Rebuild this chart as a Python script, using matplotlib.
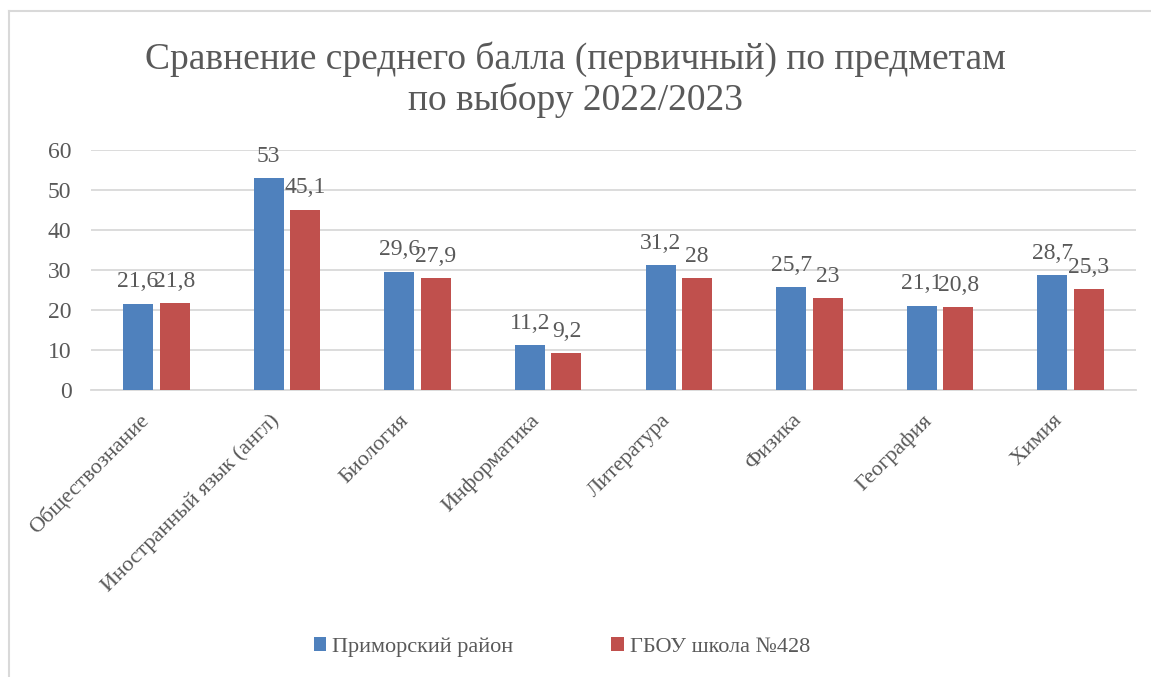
import matplotlib

matplotlib.use("Agg")
import matplotlib.pyplot as plt
import numpy as np
from matplotlib.lines import Line2D
from matplotlib.transforms import offset_copy

subjects = ["Обществознание", "Иностранный язык (англ)", "Биология", "Информатика",
            "Литература", "Физика", "География", "Химия"]
district = [21.6, 53, 29.6, 11.2, 31.2, 25.7, 21.1, 28.7]
school = [21.8, 45.1, 27.9, 9.2, 28, 23, 20.8, 25.3]
series_names = ["Приморский район", "ГБОУ школа №428"]
title = "Сравнение среднего балла (первичный) по предметам\nпо выбору 2022/2023"

plt.rcParams["font.family"] = ["Liberation Serif", "DejaVu Serif"]
TXT = "#595959"
BLUE, RED = "#4F81BD", "#C0504D"
W, H = 1151, 677


def fmt(v):
    return f"{v:g}".replace(".", ",")


fig = plt.figure(figsize=(W / 100, H / 100), dpi=100)
# outer chart border (only top and left edges fall inside the picture)
fig.lines.append(Line2D([9 / W, 1.0], [1 - 11 / H] * 2, transform=fig.transFigure,
                        color="#D9D9D9", lw=1.5))
fig.lines.append(Line2D([9 / W] * 2, [0, 1 - 11 / H], transform=fig.transFigure,
                        color="#D9D9D9", lw=1.5))
ax = fig.add_axes([91 / W, 1 - 390 / H, 1045 / W, 240 / H])

x = np.arange(len(subjects))
w = 0.23
off = 0.14
b1 = ax.bar(x - off, district, w, color=BLUE, label=series_names[0], zorder=3)
b2 = ax.bar(x + off, school, w, color=RED, label=series_names[1], zorder=3)
for bars, vals in ((b1, district), (b2, school)):
    for r, v in zip(bars, vals):
        ax.annotate(fmt(v), (r.get_x() + r.get_width() / 2, v), xytext=(0, 8),
                    textcoords="offset points", ha="center", va="bottom",
                    fontsize=17, color=TXT)

ax.set_xlim(-0.5, len(subjects) - 0.5)
ax.set_ylim(0, 60)
ax.set_yticks(range(0, 61, 10))
ax.yaxis.grid(True, color="#D9D9D9", lw=1.3, zorder=0)
for s in ("top", "right", "left"):
    ax.spines[s].set_visible(False)
ax.spines["bottom"].set_color("#D9D9D9")
ax.spines["bottom"].set_linewidth(1.3)
ax.tick_params(axis="both", length=0, labelcolor=TXT)
ax.tick_params(axis="y", pad=14, labelsize=17)
ax.set_xticks(x)
ax.set_xticklabels(subjects, rotation=45, ha="right", rotation_mode="anchor", fontsize=16)
ax.tick_params(axis="x", pad=15)
for lbl in ax.get_xticklabels():
    lbl.set_transform(offset_copy(lbl.get_transform(), fig=fig, x=-18, y=0, units="dots"))

fig.text(0.5, 1 - 80 / H, title, ha="center", va="center", fontsize=27,
         color=TXT, linespacing=1.2)
fig.legend(handles=[b1, b2], loc="center", bbox_to_anchor=(562 / W, 1 - 647 / H),
           ncol=2, frameon=False, fontsize=16, labelcolor=TXT, handlelength=0.55,
           handleheight=0.55, handletextpad=0.3, columnspacing=4.4)

fig.savefig("out.png", dpi=100)
